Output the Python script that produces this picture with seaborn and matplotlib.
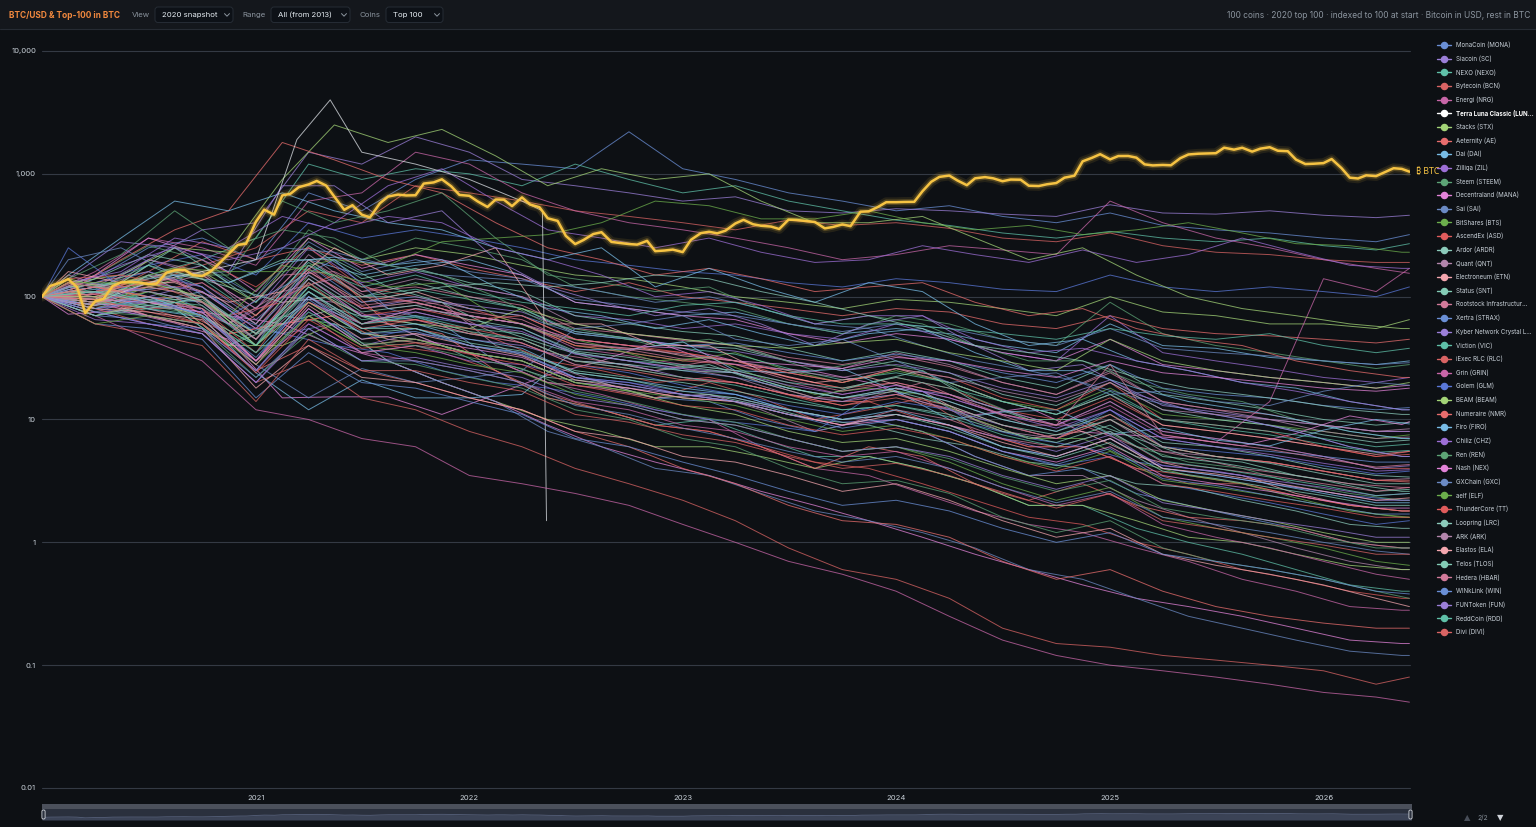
import matplotlib
matplotlib.use("Agg")
import numpy as np
import pandas as pd
import matplotlib.pyplot as plt
import seaborn as sns
from matplotlib.lines import Line2D
from matplotlib.patches import FancyBboxPatch, Rectangle
from matplotlib.ticker import NullLocator
from matplotlib.transforms import IdentityTransform

# ---------------------------------------------------------------- data
# Bitcoin in USD, twice a month (1st / 15th) from 2020-01-01, last = 2026-05-28
btc_usd = [
    7200, 8800, 9350, 10000, 8600, 5300, 6600, 6900, 8800, 9400, 9500, 9400,
    9100, 9200, 11300, 11800, 11900, 10800, 10600, 11500, 13700, 16000, 19000, 19400,
    29400, 36800, 33500, 48000, 49600, 56000, 59000, 63000, 57800, 47000, 36700, 40000,
    33500, 31800, 41500, 47000, 48800, 48000, 48200, 60000, 61300, 65000, 57000, 48500,
    47700, 43000, 38700, 44500, 44400, 39300, 46300, 40500, 38500, 31300, 29800, 22500,
    19300, 20800, 23300, 24100, 20100, 19700, 19300, 19100, 20500, 16900, 17100, 17400,
    16600, 20900, 23700, 24300, 23600, 24800, 28400, 30400, 28000, 27200, 26800, 25600,
    30500, 30300, 29700, 29200, 25900, 26600, 27900, 27000, 35400, 35600, 38700, 42300,
    42300, 42500, 42600, 51900, 62000, 68000, 69700, 63500, 58200, 66200, 67700, 66200,
    62700, 64700, 64500, 57600, 57300, 59200, 60600, 67000, 69500, 91000, 97200, 104000,
    94400, 100500, 100600, 97500, 86000, 84300, 85000, 84500, 96500, 103500, 105000, 105500,
    106000, 117500, 113300, 117400, 109200, 115400, 118600, 111000, 110000, 94000, 86500, 87000,
    88000, 95000, 80000, 67000, 66000, 70000, 69000, 74000, 80000, 79000,
    75000]
btc_dates = list(pd.date_range("2020-01-01", "2026-05-15", freq="SMS")) + [pd.Timestamp("2026-05-28")]

# Coins, indexed to 100, priced in BTC.
# Grid A: quarterly from 2020-01-01, last = 2026-05-28
quarter_dates = list(pd.date_range("2020-01-01", "2026-04-01", freq="QS")) + [pd.Timestamp("2026-05-28")]
# Grid B: start, then every 3 months from 2020-02-15, last = 2026-05-28
offset_dates = ([pd.Timestamp("2020-01-01")]
                + list(pd.date_range("2020-02-15", "2026-05-15", freq=pd.DateOffset(months=3)))
                + [pd.Timestamp("2026-05-28")])

# page 1 coins (not on the visible legend page) - grid A
doge = [100,140,250,300, 200,700,500,900, 1300,1200,1100,2200, 1100,900,700,600, 500,550,450,400, 480,380,350,330, 300,280,320]
bnb  = [100,120,200,350, 400,1500,1200,2000, 1500,900,800,700, 600,650,500,480, 520,500,470,450, 560,480,470,500, 460,440,460]
eth  = [100,90,150,200, 300,1200,900,1100, 1000,800,1200,900, 700,800,600,500, 420,380,330,300, 340,300,280,300, 260,240,270]
leo  = [100,110,130,180, 250,500,400,800, 700,600,500,450, 400,350,420,380, 400,360,300,280, 330,260,230,220, 200,190,190]
link = [100,160,300,250, 180,600,700,1500, 1200,700,500,400, 350,300,250,200, 220,260,240,220, 600,400,300,250, 200,170,155]
ada  = [100,130,180,220, 150,400,300,350, 300,250,200,180, 160,150,130,120, 140,130,115,110, 150,120,110,120, 110,100,120]
xrp  = [100,85,120,160, 90,300,200,250, 220,180,150,140, 120,100,90,80, 95,90,80,70, 100,75,70,60, 60,55,65]
xmr  = [100,95,160,280, 200,250,180,220, 170,140,110,130, 100,90,80,70, 80,75,60,55, 70,55,50,48, 45,42,45]
trx  = [100,120,90,110, 60,200,150,180, 200,150,90,80, 70,75,60,50, 55,50,40,35, 60,40,38,32, 30,28,30]
xtz  = [100,110,200,150, 80,250,130,160, 120,100,70,65, 55,60,50,45, 60,45,35,30, 70,35,30,26, 22,20,22]
atom = [100,150,260,200, 100,350,200,300, 250,200,120,100, 90,80,60,50, 70,60,45,40, 90,50,40,35, 30,26,28]
vet  = [100,150,300,220, 110,300,170,220, 180,150,90,80, 70,65,50,42, 50,45,35,30, 45,28,25,22, 20,18,19]
mkr  = [100,95,140,180, 100,280,160,200, 160,140,95,85, 75,70,60,52, 60,55,45,40, 55,38,35,33, 30,28,29]
bch  = [100,90,120,100, 40,150,80,90, 70,60,40,35, 30,35,25,20, 25,20,14,12, 18,11,10,9, 8,7,7.5]
ltc  = [100,110,140,200, 120,250,120,100, 80,60,40,38, 35,30,22,18, 22,18,12,10, 15,9,8,7, 6,5,5.2]
xlm  = [100,95,180,120, 60,200,100,130, 100,80,50,45, 40,38,30,25, 30,24,16,13, 20,12,10,9, 7.5,6.5,6.8]
neo  = [100,90,200,160, 70,220,110,140, 120,100,60,50, 45,40,30,26, 35,28,20,16, 25,14,12,10, 8,7,7.2]
eos  = [100,130,160,110, 55,160,90,110, 80,70,45,40, 33,30,24,20, 26,20,14,11, 16,9,8,7, 6,5.2,5.5]
iota = [100,140,220,180, 90,260,140,170, 130,110,70,60, 52,48,38,30, 36,30,22,18, 28,16,14,12, 10,9,9.5]
qtum = [100,100,120,150, 80,200,110,120, 100,85,55,50, 44,40,32,28, 33,27,20,16, 24,14,12,11, 9,8,8]
etc  = [100,130,100,90, 40,180,90,100, 80,70,50,45, 40,42,35,30, 34,30,24,20, 28,18,16,15, 13,12,12.5]
bat  = [100,90,100,130, 65,150,80,95, 85,75,52,46, 40,36,30,25, 28,24,18,15, 21,13,11.5,10, 9,8,8]
dcr  = [100,115,180,140, 70,190,100,115, 95,80,52,46, 38,34,26,21, 24,20,14,11, 17,10,8.5,7.5, 6.3,5.4,5.6]
dash = [100,90,110,130, 70,180,100,90, 70,60,40,35, 30,28,22,18, 20,16,12,9, 14,8,7,6, 5,4,4]
zec  = [100,105,150,120, 60,170,80,90, 70,60,38,33, 28,25,20,16, 19,15,11,9, 13,7.5,6.5,14, 140,110,170]
algo = [100,120,160,120, 50,120,70,65, 50,42,28,24, 19,16,12,9.5, 10,8,5.5,4.2, 5,3,2.5,2.1, 1.7,1.4,1.5]

# page 1 coins - grid B
pol   = [100,130,150,250, 230,900,2500,1800, 2300,1400,800,1100, 900,1000,600,400, 400,450,300,200, 250,150,100,80, 70,60,55,55]
theta = [100,110,200,350, 500,1800,1300,900, 700,400,250,200, 150,170,140,110, 120,130,90,70, 80,55,45,40, 30,25,22,22]
snx   = [100,150,300,600, 500,700,500,400, 350,250,200,250, 120,170,120,90, 130,110,60,40, 45,30,25,20, 18,14,12,12]
cro   = [100,120,180,250, 200,250,400,800, 1100,600,350,300, 250,300,230,190, 200,260,220,190, 240,190,220,300, 230,180,170,170]
enj   = [100,90,130,150, 150,600,400,500, 700,300,150,130, 110,120,80,60, 70,60,40,30, 30,20,16,14, 10,8,7,7]
usdt  = [100,72,77,61, 45,15,15.3,15.3, 11,16,23,30, 43,30,26.5,24.7, 20,13.9,10.9,12.5, 7.9,7.4,7,6.1, 7.7,10.7,9.1,9.6]
ht    = [100,110,130,150, 160,250,230,180, 150,140,130,110, 90,100,80,60, 55,40,30,25, 20,15,12,10, 8,6,5,5]
okb   = [100,120,130,170, 160,160,200,180, 280,300,320,400, 600,550,430,430, 500,400,350,380, 320,350,400,330, 270,260,230,230]
ont   = [100,140,150,120, 70,90,100,70, 60,45,30,25, 20,22,18,14, 14,10,8,6, 6,4,3.5,3, 2.4,2,1.8,1.8]
xno   = [100,110,110,80, 40,60,80,60, 40,30,22,20, 15,16,13,10, 9,7,6,4.5, 4,3,2.8,2.2, 1.8,1.4,1.3,1.3]
icx   = [100,150,110,120, 60,110,140,80, 90,40,28,20, 15,16,12,8, 10,8,5,3.5, 3.5,2.2,1.6,1.2, 0.9,0.7,0.6,0.6]
waves = [100,160,130,130, 90,110,250,150, 180,250,60,60, 40,40,25,20, 22,17,10,7, 8,5,4,3.5, 2.5,2,1.8,1.8]
zrx   = [100,120,130,250, 130,200,200,120, 90,55,40,30, 25,28,20,15, 20,25,14,10, 10,7,5,4.5, 3.5,3,2.6,2.6]
rvn   = [100,120,90,90, 60,150,160,100, 80,50,35,30, 25,30,20,15, 15,20,13,9, 9,6,5,4, 3.5,3,2.8,2.8]
dgb   = [100,120,110,120, 70,120,200,80, 60,30,20,18, 15,14,10,8, 10,8,5,3.5, 4,2.5,2,1.6, 1.3,1,0.9,0.9]
hot   = [100,140,280,250, 160,800,800,400, 500,200,120,90, 70,80,60,40, 60,70,40,25, 28,16,12,10, 8,6,5,5]
kmd   = [100,110,90,80, 40,70,60,45, 40,25,15,12, 9,10,7,5, 5,4,3,2, 2,1.3,1,0.8, 0.6,0.45,0.4,0.4]
lsk   = [100,90,80,80, 50,60,70,45, 40,30,20,18, 15,20,15,10, 12,15,8,6, 6,4,3,3, 2.4,2,1.8,1.8]
rep   = [100,130,120,140, 60,100,90,60, 40,30,20,16, 12,10,6,4, 3.5,2.5,1.8,1.4, 1.2,0.9,0.7,0.5, 0.4,0.3,0.28,0.28]
bsv   = [100,250,120,100, 60,50,40,35, 25,20,18,15, 12,10,9,8, 15,17,9,7, 6,4.5,4,3.5, 2.8,2.4,2.2,2.2]
btg   = [100,140,110,90, 40,40,60,30, 20,14,10,8, 6,6,5,4, 5,4,3,2, 2,1.5,1.1,1, 0.8,0.65,0.6,0.6]
xvg   = [100,110,90,100, 50,100,150,60, 50,25,16,12, 9,8,6,4, 6,5,3,2.2, 3,2,1.6,1.5, 1.3,1,0.9,0.9]
zen   = [100,130,110,150, 130,190,210,180, 200,120,80,70, 55,65,50,40, 50,55,35,25, 25,18,14,12, 10,8,7,7]
kava  = [100,130,160,300, 250,450,350,450, 400,250,200,150, 100,110,85,60, 70,70,45,35, 38,30,25,20, 17,14,12,12]
sxp   = [100,140,220,500, 250,350,300,180, 150,100,60,50, 40,45,35,25, 30,25,15,10, 10,6,4.5,4, 3,2.5,2.2,2.2]
hedg  = [100,90,85,80, 70,60,40,30, 20,14,9,6, 4.5,3.5,2.6,2, 1.5,1.1,0.8,0.6, 0.45,0.35,0.3,0.25, 0.2,0.16,0.15,0.15]
seele = [100,200,250,150, 70,50,60,30, 20,14,8,6, 4,3.5,2.5,1.8, 1.5,1.2,0.9,0.6, 0.5,0.35,0.25,0.2, 0.16,0.13,0.12,0.12]
iost  = [100,130,130,120, 70,180,150,120, 130,70,50,40, 30,32,22,16, 18,16,10,7, 7,4.5,3.5,3, 2.3,1.8,1.6,1.6]
bcd   = [100,130,110,90, 50,60,70,40, 35,25,15,12, 9,8,6,4.5, 4,3,2.2,1.6, 1.4,1,0.8,0.6, 0.5,0.4,0.35,0.35]
xin   = [100,110,130,160, 120,90,100,100, 120,130,120,130, 150,140,110,90, 70,55,40,35, 30,22,18,16, 14,12,11,11]

# page 2 coins (the visible legend page, in legend order) - grid A
mona  = [100,75,100,70, 30,110,60,70, 60,55,35,30, 25,22,18,15, 18,14,10,8, 12,7,6,5.5, 5,4.5,4.5]
sc    = [100,80,70,60, 25,80,40,50, 45,40,30,28, 22,20,16,14, 18,16,12,9, 14,8,7,6, 5,4,4.2]
nexo  = [100,80,110,90, 50,180,120,150, 110,90,80,70, 85,90,70,60, 60,55,50,45, 55,48,45,50, 40,35,38]
bcn   = [100,80,60,50, 20,30,15,12, 8,6,4,3, 2.2,1.5,0.9,0.6, 0.5,0.35,0.2,0.15, 0.14,0.12,0.11,0.1, 0.09,0.07,0.08]
nrg   = [100,110,90,70, 30,60,35,30, 25,20,14,12, 9,8,6,5, 5.5,4,2.8,2, 2.5,1.4,1.1,0.9, 0.7,0.55,0.5]
lunc_dates = ["2020-01-01", "2020-04-01", "2020-07-01", "2020-10-01", "2021-01-01", "2021-03-12",
              "2021-05-08", "2021-07-01", "2021-10-01", "2022-01-01", "2022-04-01", "2022-05-06", "2022-05-13"]
lunc  = [100, 90, 130, 160, 200, 1900, 4000, 1500, 1200, 900, 600, 500, 1.5]
stx   = [100,70,90,70, 40,120,70,60, 55,80,60,50, 45,40,38,42, 45,35,30,25, 45,30,25,22, 20,18,20]
ae    = [100,90,80,60, 25,40,25,20, 15,12,8,6, 4,3,2,1.5, 1.4,1.1,0.7,0.5, 0.6,0.4,0.3,0.25, 0.22,0.2,0.2]
dai   = [100,109,79,68, 24,12,21,15, 15,16,37,37, 43,25,24,26, 17,10,11.5,12, 7.6,8.5,6.8,6.1, 8.2,10,9.2]
zil   = [100,65,60,50, 20,60,35,40, 30,28,22,20, 16,14,12,10, 11,9,6,5, 7,4.2,3.8,3.2, 2.8,2.4,2.5]
steem = [100,75,70,55, 22,50,30,28, 22,18,12,10, 7,6,4,3, 3.2,2.5,1.6,1.2, 1.5,0.9,0.7,0.6, 0.5,0.4,0.35]
mana  = [100,90,70,60, 30,90,60,80, 70,60,45,40, 38,30,28,26, 32,30,25,22, 30,24,22,20, 18,17,18]
sai   = [100,110,85,75, 28,15,26,20, 22,25,55,60, 70,45,40,45, 30,20,22,24, 16,17,14,13, 17,20,19]
bts   = [100,85,110,80, 30,70,40,35, 28,24,16,13, 10,9,7,5.5, 6,4.5,3,2.2, 2.8,1.6,1.3,1.1, 0.9,0.7,0.65]
asd   = [100,105,90,80, 35,140,70,80, 65,70,45,40, 35,30,24,20, 26,22,15,12, 20,10,9,8, 6,5,5.5]
ardr  = [100,85,150,90, 45,130,70,60, 50,45,30,28, 25,24,18,15, 18,14,10,8, 11,6.5,6,5, 4,3.5,3.4]
qnt   = [100,120,110,90, 40,100,60,75, 60,50,35,30, 26,22,16,14, 16,12,8,7, 10,5.5,5,4.5, 3.8,3.2,3.3]
etn   = [100,95,70,55, 18,40,22,20, 15,12,8,7, 5,4.5,3.5,2.6, 3,2.2,1.5,1.1, 1.3,0.8,0.65,0.55, 0.45,0.35,0.3]
snt   = [100,70,80,100, 50,90,50,55, 40,35,25,22, 20,17,14,12, 13,11,8,6.5, 9,5,4.5,3.8, 3.2,2.6,2.7]
rif   = [100,100,70,55, 25,70,35,40, 35,30,20,18, 15,14,11,9, 12,10,7,6, 8,4.5,4,3.5, 3,2.6,2.8]
strax = [100,60,55,45, 15,35,20,18, 14,11,7,6, 4.5,3.5,2.6,2, 2.2,1.8,1.3,1, 1.2,0.8,0.7,0.6, 0.5,0.4,0.38]
knc   = [100,80,90,80, 30,100,50,45, 35,30,20,18, 16,15,12,10, 11,9,7,5.5, 7.5,4,3.5,3, 2.6,2.2,2.2]
vic   = [100,95,80,70, 40,120,65,70, 55,50,35,30, 28,25,20,18, 22,18,14,11, 16,10,9,8, 7,6,6.3]
rlc   = [100,110,130,90, 50,130,60,65, 55,45,30,26, 22,20,16,13, 15,12,9,7, 10,6,5,4.5, 3.8,3.2,3.2]
grin  = [100,70,45,30, 12,10,7,6, 3.5,3,2.5,2, 1.4,1,0.7,0.55, 0.4,0.25,0.16,0.12, 0.1,0.09,0.08,0.07, 0.06,0.055,0.05]
glm   = [100,75,60,55, 25,75,45,55, 40,35,22,20, 17,16,13,11, 14,12,9,7, 12,6,5.5,5, 4.2,3.6,3.8]
beam  = [100,100,130,100, 40,90,50,45, 35,30,20,17, 13,11,8,6.5, 7,5.5,4,3, 3.5,2.2,1.8,1.5, 1.2,1,1]
nmr   = [100,120,100,80, 30,90,55,65, 50,42,28,25, 21,20,16,13, 16,13,9,7, 11,6,5,4.5, 3.8,3.2,3.1]
firo  = [100,85,100,70, 35,100,55,60, 45,38,24,21, 18,16,12,10, 12,9,6,5, 7,4,3.5,3, 2.5,2.1,2.1]
chz   = [100,85,130,110, 55,140,70,75, 60,52,34,30, 26,24,19,16, 19,15,11,8.5, 12,7,6,5.2, 4.4,3.8,3.9]
ren   = [100,90,85,70, 35,75,42,40, 32,26,17,14, 11,9.5,7,5.5, 6,4.8,3.4,2.6, 3.2,1.9,1.6,1.4, 1.1,0.9,0.9]
nex   = [100,95,90,75, 30,80,40,45, 38,32,22,19, 16,14,11,9, 10,8,5.5,4.5, 6,3.5,3,2.6, 2.2,1.9,1.9]
gxc   = [100,70,65,50, 22,55,30,30, 25,20,13,11, 8.5,7,5.5,4.5, 5,4,2.8,2.1, 2.6,1.6,1.4,1.2, 1,0.85,0.8]
elf   = [100,60,70,60, 28,70,40,45, 35,30,20,17, 15,13,10,8, 9,7,5,4, 5.5,3.2,2.8,2.4, 2,1.7,1.6]
tt    = [100,95,75,60, 24,65,38,42, 34,28,19,16, 13,12,9,7.5, 8.5,7,5,3.8, 5,3,2.6,2.2, 1.9,1.6,1.6]
lrc   = [100,110,90,100, 45,140,75,85, 65,55,36,32, 27,24,18,15, 17,13,9,7.5, 10,6,5,4.4, 3.6,3,3]
ark   = [100,90,100,80, 45,110,60,80, 70,60,42,38, 34,30,25,22, 26,22,17,14, 20,12,11,10, 9,8,8.4]
ela   = [100,80,75,65, 28,85,45,50, 40,33,21,18, 15,14,11,9, 11,9,6.5,5, 7,4,3.6,3.1, 2.6,2.2,2.3]
tlos  = [100,70,85,95, 50,110,55,55, 42,36,24,21, 17,15,12,10, 11,8.5,6,4.8, 6.5,3.8,3.3,2.8, 2.4,2,2]
hbar  = [100,105,120,100, 45,160,85,95, 75,65,42,37, 31,28,21,17, 20,16,11,9, 28,7.5,6.5,5.7, 4.8,4.1,4.3]
win   = [100,80,95,70, 32,95,50,52, 40,34,22,19, 16,14,11,8.5, 10,8,5.5,4.3, 5.8,3.3,2.9,2.4, 2,1.7,1.7]
fun   = [100,75,60,50, 20,55,30,32, 26,22,15,13, 10,9,7,5.5, 6,5,3.5,2.7, 3.5,2.1,1.8,1.5, 1.3,1.1,1.1]
rdd   = [100,110,95,85, 40,110,60,68, 52,45,30,26, 22,19,15,12, 13,10.5,7.5,6, 8,4.6,4,3.4, 2.9,2.4,2.5]
divi  = [100,60,50,40, 14,45,25,25, 20,17,11,9.5, 7.5,6.5,5,4, 4.4,3.5,2.5,1.9, 2.5,1.5,1.3,1.1, 0.95,0.8,0.8]

page1 = [("Dogecoin (DOGE)", doge), ("BNB (BNB)", bnb), ("Ethereum (ETH)", eth), ("UNUS SED LEO (LEO)", leo),
         ("Chainlink (LINK)", link), ("Cardano (ADA)", ada), ("XRP (XRP)", xrp), ("Monero (XMR)", xmr),
         ("TRON (TRX)", trx), ("Tezos (XTZ)", xtz), ("Cosmos (ATOM)", atom), ("VeChain (VET)", vet),
         ("Maker (MKR)", mkr), ("Bitcoin Cash (BCH)", bch), ("Litecoin (LTC)", ltc), ("Stellar (XLM)", xlm),
         ("NEO (NEO)", neo), ("EOS (EOS)", eos), ("IOTA (IOTA)", iota), ("Qtum (QTUM)", qtum),
         ("Ethereum Classic (ETC)", etc), ("Basic Attention Token (BAT)", bat), ("Decred (DCR)", dcr),
         ("Dash (DASH)", dash), ("Zcash (ZEC)", zec), ("Algorand (ALGO)", algo)]
page1_b = [("Polygon (POL)", pol), ("Theta Network (THETA)", theta), ("Synthetix (SNX)", snx),
           ("Cronos (CRO)", cro), ("Enjin Coin (ENJ)", enj), ("Tether (USDT)", usdt), ("Huobi Token (HT)", ht),
           ("OKB (OKB)", okb), ("Ontology (ONT)", ont), ("Nano (XNO)", xno), ("ICON (ICX)", icx),
           ("Waves (WAVES)", waves), ("0x (ZRX)", zrx), ("Ravencoin (RVN)", rvn), ("DigiByte (DGB)", dgb),
           ("Holo (HOT)", hot), ("Komodo (KMD)", kmd), ("Lisk (LSK)", lsk), ("Augur (REP)", rep),
           ("Bitcoin SV (BSV)", bsv), ("Bitcoin Gold (BTG)", btg), ("Verge (XVG)", xvg), ("Horizen (ZEN)", zen),
           ("Kava (KAVA)", kava), ("Solar (SXP)", sxp), ("HedgeTrade (HEDG)", hedg), ("Seele (SEELE)", seele),
           ("IOST (IOST)", iost), ("Bitcoin Diamond (BCD)", bcd), ("Mixin (XIN)", xin)]
page2 = [("MonaCoin (MONA)", mona), ("Siacoin (SC)", sc), ("NEXO (NEXO)", nexo), ("Bytecoin (BCN)", bcn),
         ("Energi (NRG)", nrg), ("Terra Luna Classic (LUNC)", lunc), ("Stacks (STX)", stx),
         ("Aeternity (AE)", ae), ("Dai (DAI)", dai), ("Zilliqa (ZIL)", zil), ("Steem (STEEM)", steem),
         ("Decentraland (MANA)", mana), ("Sai (SAI)", sai), ("BitShares (BTS)", bts), ("AscendEx (ASD)", asd),
         ("Ardor (ARDR)", ardr), ("Quant (QNT)", qnt), ("Electroneum (ETN)", etn), ("Status (SNT)", snt),
         ("Rootstock Infrastructure Framework (RIF)", rif), ("Xertra (STRAX)", strax),
         ("Kyber Network Crystal Legacy (KNCL)", knc), ("Viction (VIC)", vic), ("iExec RLC (RLC)", rlc),
         ("Grin (GRIN)", grin), ("Golem (GLM)", glm), ("BEAM (BEAM)", beam), ("Numeraire (NMR)", nmr),
         ("Firo (FIRO)", firo), ("Chiliz (CHZ)", chz), ("Ren (REN)", ren), ("Nash (NEX)", nex),
         ("GXChain (GXC)", gxc), ("aelf (ELF)", elf), ("ThunderCore (TT)", tt), ("Loopring (LRC)", lrc),
         ("ARK (ARK)", ark), ("Elastos (ELA)", ela), ("Telos (TLOS)", tlos), ("Hedera (HBAR)", hbar),
         ("WINkLink (WIN)", win), ("FUNToken (FUN)", fun), ("ReddCoin (RDD)", rdd), ("Divi (DIVI)", divi)]

year_ticks = [2021, 2022, 2023, 2024, 2025, 2026]
y_ticks = [0.01, 0.1, 1, 10, 100, 1000, 10000]
y_tick_labels = ["0.01", "0.1", "1", "10", "100", "1,000", "10,000"]

palette20 = ["#6a8fd6", "#9b7fd8", "#5fc0a8", "#d96464", "#c866a8", "#5a78d8", "#a3d477", "#e86d6d",
             "#78bce6", "#9d6fd6", "#5da476", "#e383d9", "#6b8ac4", "#6cae4c", "#e05c5c", "#8ccbbb",
             "#b386ac", "#f4a6ae", "#84ccb6", "#d27a9a"]
HIGHLIGHT = "Terra Luna Classic (LUNC)"

# ---------------------------------------------------------------- style
W, H = 1536, 827
BG = "#0d1014"
BAR = "#14171c"
GRID = "#343a44"
TXT = "#c9d1d9"
MUTED = "#8b949e"
GOLD = "#f6c343"
SYMBOL_FONTS = ["Noto Sans", "Lato", "Roboto", "Open Sans", "Liberation Sans", "Inter", "DejaVu Sans"]

sns.set_style("dark", {"axes.facecolor": BG, "figure.facecolor": BG})
plt.rcParams["font.family"] = ["Inter", "DejaVu Sans"]

def fx(x):
    return x / W

def fy(y):
    return 1 - y / H

fig = plt.figure(figsize=(W / 100, H / 100), dpi=100, facecolor=BG)

# ---------------------------------------------------------------- main axes
ax = fig.add_axes([fx(42), fy(788), (1410 - 42) / W, (788 - 51) / H])
ax.set_facecolor(BG)

color_map = {}
frames = []
groups = [(page1, quarter_dates, 0), (page1_b, offset_dates, len(page1)), (page2, quarter_dates, 0)]
for page, grid_dates, start in groups:
    for i, (name, vals) in enumerate(page):
        color_map[name] = "#dfe3e8" if name == HIGHLIGHT else palette20[(start + i) % 20]
        dates = list(pd.to_datetime(lunc_dates)) if name == HIGHLIGHT else grid_dates
        n = min(len(dates), len(vals))
        frames.append(pd.DataFrame({"date": dates[:n], "value": vals[:n], "coin": name}))
coins_df = pd.concat(frames, ignore_index=True)
order = [n for n, _ in page1 + page1_b + page2]

sns.lineplot(data=coins_df, x="date", y="value", hue="coin", hue_order=order, palette=color_map,
             linewidth=0.7, alpha=0.75, legend=False, estimator=None, sort=False, ax=ax)

btc_df = pd.DataFrame({"date": btc_dates[:len(btc_usd)], "usd": btc_usd})
btc_df["index"] = btc_df["usd"] / btc_df["usd"].iloc[0] * 100
for lw, a in [(7.0, 0.10), (4.0, 0.22), (1.8, 1.0)]:
    sns.lineplot(data=btc_df, x="date", y="index", color=GOLD, linewidth=lw, alpha=a,
                 estimator=None, sort=False, ax=ax)

ax.set_yscale("log")
ax.set_ylim(0.01, 10000)
ax.set_xlim(pd.Timestamp("2020-01-01"), pd.Timestamp("2026-05-29"))
ax.set_yticks(y_ticks)
ax.set_yticklabels(y_tick_labels)
ax.yaxis.set_minor_locator(NullLocator())
ax.set_xticks([pd.Timestamp(f"{y}-01-01") for y in year_ticks])
ax.set_xticklabels([str(y) for y in year_ticks])
ax.xaxis.set_minor_locator(NullLocator())
ax.set_xlabel("")
ax.set_ylabel("")
for s in ax.spines.values():
    s.set_visible(False)
ax.grid(False)
for yv in y_ticks:
    ax.axhline(yv, color=GRID, lw=0.8, zorder=0.5, clip_on=False)
ax.tick_params(axis="y", length=0, pad=4.3, labelsize=5.5, labelcolor=TXT)
ax.tick_params(axis="x", length=3, width=0.6, color="#6e7681", pad=2.0, labelsize=5.5,
               labelcolor=TXT, direction="out")

# BTC end label
ax.annotate("\u20bf BTC", xy=(btc_df["date"].iloc[-1], btc_df["index"].iloc[-1]),
            xytext=(4.5, 0), textcoords="offset points", va="center", ha="left",
            fontsize=6.3, fontweight="bold", color=GOLD, annotation_clip=False,
            family=SYMBOL_FONTS)

# ---------------------------------------------------------------- navigator
fig.add_artist(Rectangle((fx(42), fy(809)), (1412 - 42) / W, 5.3 / H, transform=fig.transFigure,
                         facecolor="#4b505b", edgecolor="none"))
nav = fig.add_axes([fx(42), fy(820), (1412 - 42) / W, 11 / H])
nav.set_facecolor("#2a303d")
logi = np.log10(btc_df["index"].values)
nav.fill_between(btc_df["date"], 1.2, logi, color="#3b4356", lw=0)
sns.lineplot(x=btc_df["date"], y=logi, color="#56607a", linewidth=0.6, ax=nav, estimator=None)
nav.set_ylim(1.2, 4.6)
nav.set_xlim(pd.Timestamp("2020-01-01"), pd.Timestamp("2026-05-29"))
nav.set_xticks([]); nav.set_yticks([])
nav.set_xlabel(""); nav.set_ylabel("")
for s in nav.spines.values():
    s.set_visible(False)
for hx in (43.5, 1410.5):
    fig.add_artist(FancyBboxPatch((hx - 1.6, H - 819), 3.2, 9, boxstyle="round,pad=0,rounding_size=1.4",
                                  transform=IdentityTransform(), facecolor="#2a303d",
                                  edgecolor="#d0d4da", lw=0.6))

# ---------------------------------------------------------------- header bar
fig.add_artist(Rectangle((0, fy(29)), 1, 29 / H, transform=fig.transFigure, facecolor=BAR, edgecolor="none"))
fig.add_artist(Line2D([0, 1], [fy(29.3), fy(29.3)], color="#262b33", lw=0.8, transform=fig.transFigure))

fig.text(fx(9), fy(15), "BTC/USD & Top-100 in BTC", fontsize=6.0, fontweight="bold",
         color="#f0883e", va="center", ha="left")
controls = [("View", 132, 155, 233, "2020 snapshot"),
            ("Range", 242, 271, 350, "All (from 2013)"),
            ("Coins", 359, 386, 443, "Top 100")]
for label, lx, bx0, bx1, value in controls:
    fig.text(fx(lx), fy(15), label, fontsize=5.6, color=MUTED, va="center", ha="left")
    fig.add_artist(FancyBboxPatch((bx0, H - 22.5), bx1 - bx0, 15.5,
                                  boxstyle="round,pad=0,rounding_size=3", transform=IdentityTransform(),
                                  facecolor="#0d1117", edgecolor="#262c35", lw=0.7))
    fig.text(fx(bx0 + 7), fy(15), value, fontsize=5.6, color="#e6edf3", va="center", ha="left")
    cx = bx1 - 6
    fig.add_artist(Line2D([fx(cx - 2.5), fx(cx), fx(cx + 2.5)], [fy(13.6), fy(16.2), fy(13.6)],
                          color=MUTED, lw=0.7, transform=fig.transFigure))
fig.text(fx(1530), fy(15), "100 coins \u00b7 2020 top 100 \u00b7 indexed to 100 at start \u00b7 Bitcoin in USD, rest in BTC",
         fontsize=6.05, color=MUTED, va="center", ha="right")

# ---------------------------------------------------------------- legend (page 2/2)
def short(s):
    return s if len(s) <= 24 else s[:23] + "..."

for i, (name, _) in enumerate(page2):
    y = 45 + i * 13.65
    c = "#ffffff" if name == HIGHLIGHT else color_map[name]
    fig.add_artist(Line2D([fx(1437), fx(1450.5)], [fy(y), fy(y)], color=c, lw=1.0,
                          transform=fig.transFigure))
    fig.add_artist(Line2D([fx(1443.7)], [fy(y)], marker="o", ms=4.4, color=c, mec=c,
                          transform=fig.transFigure))
    hl = name == HIGHLIGHT
    fig.text(fx(1456), fy(y), short(name), fontsize=4.4, color="#ffffff" if hl else TXT,
             fontweight="bold" if hl else "normal", va="center", ha="left")

fig.text(fx(1467), fy(818), "\u25b2", fontsize=6, color="#474d58", va="center", ha="center",
         family=["DejaVu Sans"])
fig.text(fx(1483), fy(818), "2/2", fontsize=4.8, color=MUTED, va="center", ha="center")
fig.text(fx(1500), fy(818), "\u25bc", fontsize=6, color="#d0d4da", va="center", ha="center",
         family=["DejaVu Sans"])

fig.savefig("out.png", dpi=100, facecolor=BG)
